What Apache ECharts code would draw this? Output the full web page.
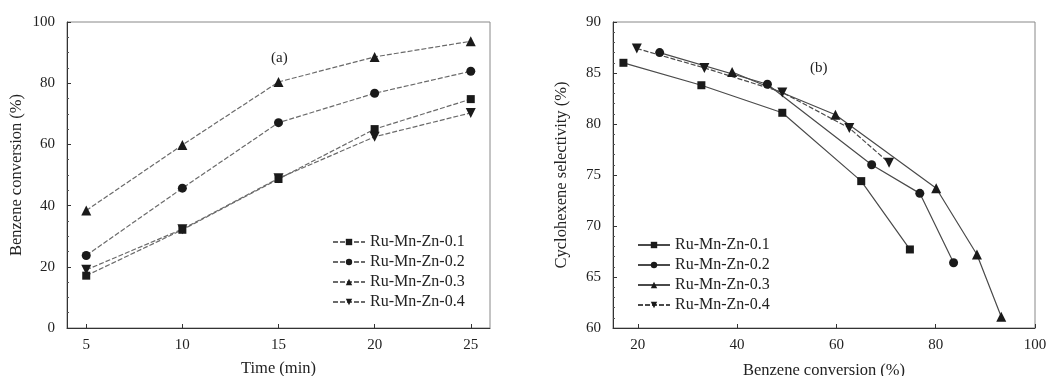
<!DOCTYPE html>
<html>
<head>
<meta charset="utf-8">
<script src="https://cdn.jsdelivr.net/npm/echarts@6/dist/echarts.min.js"></script>
<style>
html,body{margin:0;padding:0;background:#fff;}
#c{width:1050px;height:376px;}
</style>
</head>
<body>
<div id="c"></div>
<script>
// ---- data (a) ----
const timeMin = [5, 10, 15, 20, 25];
const conv01 = [17.1, 32.1, 48.7, 65.0, 74.8];
const conv02 = [23.7, 45.7, 67.1, 76.7, 83.9];
const conv03 = [38.4, 59.8, 80.4, 88.6, 93.7];
const conv04 = [19.0, 32.3, 48.9, 62.5, 70.3];
// ---- data (b) ----
const selX01 = [17.1, 32.8, 49.1, 65.0, 74.8];
const sel01  = [86.0, 83.8, 81.1, 74.4, 67.7];
const selX02 = [24.4, 46.1, 67.1, 76.8, 83.6];
const sel02  = [87.0, 83.9, 76.0, 73.2, 66.4];
const selX03 = [39.0, 59.8, 80.1, 88.3, 93.2];
const sel03  = [85.1, 80.9, 73.7, 67.2, 61.1];
const selX04 = [19.8, 33.4, 49.1, 62.6, 70.6];
const sel04  = [87.4, 85.5, 83.1, 79.6, 76.2];

const names = ['Ru-Mn-Zn-0.1', 'Ru-Mn-Zn-0.2', 'Ru-Mn-Zn-0.3', 'Ru-Mn-Zn-0.4'];
const timeTicks = [5, 10, 15, 20, 25];
const convTicks = [20, 40, 60, 80, 100];

const invTri = 'path://M0,0 L10,0 L5,9 Z';
const symbols = ['rect', 'circle', 'triangle', invTri];
const symSizes = [8, 9, 10, 10];

const FONT = 'Liberation Serif';
const zip = (xs, ys) => xs.map((x, i) => [x, ys[i]]);

const leftSets = [conv01, conv02, conv03, conv04];
const rightSets = [[selX01, sel01], [selX02, sel02], [selX03, sel03], [selX04, sel04]];
const dashed = [5, 2];
const rightLineTypes = ['solid', 'solid', 'solid', dashed];

const series = [];
leftSets.forEach((ys, i) => {
  series.push({
    name: names[i], type: 'line', xAxisIndex: 0, yAxisIndex: 0,
    data: zip(timeMin, ys), symbol: symbols[i], symbolSize: symSizes[i],
    itemStyle: { color: '#1a1a1a' },
    lineStyle: { color: '#6a6a6a', width: 1.2, type: dashed },
    emphasis: { disabled: true }, animation: false
  });
});
rightSets.forEach((p, i) => {
  series.push({
    name: names[i], type: 'line', xAxisIndex: 1, yAxisIndex: 1,
    data: zip(p[0], p[1]), symbol: symbols[i], symbolSize: symSizes[i],
    itemStyle: { color: '#1a1a1a' },
    lineStyle: { color: '#4a4a4a', width: 1.2, type: rightLineTypes[i] },
    emphasis: { disabled: true }, animation: false
  });
});

const axisCommon = {
  axisLine: { show: true, lineStyle: { color: '#333', width: 1 } },
  axisTick: { show: true, inside: true, length: 4, lineStyle: { color: '#333' } },
  splitLine: { show: false },
  axisLabel: { color: '#222', fontFamily: FONT, fontSize: 15 },
  nameTextStyle: { color: '#222', fontFamily: FONT, fontSize: 16.5 }
};

const legendText = { fontFamily: FONT, fontSize: 16, color: '#222' };

const option = {
  backgroundColor: '#fff',
  animation: false,
  title: [
    { text: '(a)', left: 266, top: 46, textStyle: { fontFamily: FONT, fontSize: 15, fontWeight: 'normal', color: '#222' } },
    { text: '(b)', left: 805, top: 56, textStyle: { fontFamily: FONT, fontSize: 15, fontWeight: 'normal', color: '#222' } }
  ],
  grid: [
    { left: 67, top: 22, width: 423, height: 306, show: true, borderColor: '#888', borderWidth: 1, outerBoundsMode: 'none', containLabel: false },
    { left: 613, top: 22, width: 422, height: 306, show: true, borderColor: '#888', borderWidth: 1, outerBoundsMode: 'none', containLabel: false }
  ],
  legend: [
    {
      data: names.map(n => ({ name: n, lineStyle: { type: dashed, color: '#6a6a6a' } })),
      left: 327, top: 229, orient: 'vertical', itemGap: 4,
      itemWidth: 32, itemHeight: 8,
      textStyle: legendText
    },
    {
      data: names.map((n, i) => ({ name: n, lineStyle: { type: rightLineTypes[i], color: '#4a4a4a' } })),
      left: 632, top: 232, orient: 'vertical', itemGap: 4,
      itemWidth: 32, itemHeight: 8,
      textStyle: legendText
    }
  ],
  xAxis: [
    Object.assign({}, axisCommon, {
      gridIndex: 0, type: 'value', min: 4, max: 26,
      name: 'Time (min)', nameLocation: 'middle', nameGap: 32,
      axisTick: Object.assign({}, axisCommon.axisTick, { customValues: timeTicks }),
      axisLabel: Object.assign({}, axisCommon.axisLabel, { margin: 10, customValues: timeTicks })
    }),
    Object.assign({}, axisCommon, {
      gridIndex: 1, type: 'value', min: 15, max: 100,
      name: 'Benzene conversion (%)', nameLocation: 'middle', nameGap: 34,
      axisTick: Object.assign({}, axisCommon.axisTick, { customValues: convTicks }),
      axisLabel: Object.assign({}, axisCommon.axisLabel, { margin: 10, customValues: convTicks })
    })
  ],
  yAxis: [
    Object.assign({}, axisCommon, {
      gridIndex: 0, type: 'value', min: 0, max: 100, interval: 20,
      name: 'Benzene conversion (%)', nameLocation: 'middle', nameGap: 42,
      minorTick: { show: true, splitNumber: 4, length: 2, lineStyle: { color: '#555' } },
      axisLabel: Object.assign({}, axisCommon.axisLabel, { margin: 12 })
    }),
    Object.assign({}, axisCommon, {
      gridIndex: 1, type: 'value', min: 60, max: 90, interval: 5,
      name: 'Cyclohexene selectivity (%)', nameLocation: 'middle', nameGap: 43,
      minorTick: { show: true, splitNumber: 5, length: 2, lineStyle: { color: '#555' } },
      axisLabel: Object.assign({}, axisCommon.axisLabel, { margin: 12 })
    })
  ],
  series: series
};

const chart = echarts.init(document.getElementById('c'), null, { renderer: 'canvas' });
chart.setOption(option);
</script>
</body>
</html>
